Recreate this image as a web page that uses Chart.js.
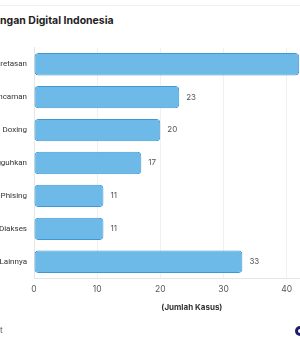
<!DOCTYPE html>
<html>
<head>
<meta charset="utf-8">
<script src="https://cdn.jsdelivr.net/npm/chart.js@4.4.1/dist/chart.umd.min.js"></script>
<style>
  html, body { margin: 0; padding: 0; background: #fff; }
  body { width: 300px; height: 350px; position: relative; overflow: hidden; font-family: Inter, "Open Sans", sans-serif; }
  .topline { position: absolute; left: 0; right: 0; top: 5px; border-top: 1px solid #f0f0f0; }
  #title { position: absolute; top: 14px; white-space: nowrap; font-weight: 700; font-size: 10.5px; color: #222; }
  #source { position: absolute; top: 325px; white-space: nowrap; font-size: 8px; color: #555; }
  #logo { position: absolute; left: 295px; top: 326px; width: 10px; height: 10px; border-radius: 50%; background: #1f1d6b; }
  #logo::after { content: ""; position: absolute; left: 3px; top: 3px; width: 4px; height: 4px; border-radius: 50%; background: #fff; }
  #wrap { position: absolute; left: -56px; top: 36px; width: 417px; height: 276px; }
</style>
</head>
<body>
<div class="topline"></div>
<div id="title">Serangan Digital Indonesia</div>
<div id="source">Sumber: SAFEnet</div>
<div id="logo"></div>
<div id="wrap"><canvas id="attackChart"></canvas></div>
<script>
// data
const categories = ["Peretasan", "Ancaman", "Doxing", "Akun Ditangguhkan", "Phising", "Diakses", "Lainnya"];
const caseCounts = [42, 23, 20, 17, 11, 11, 33];
const xTicks = [0, 10, 20, 30, 40, 50];

// shift the title / source so they are cut at the left edge like the reference
function cutLeft(id, hiddenPart) {
  const el = document.getElementById(id);
  const c = document.createElement("canvas").getContext("2d");
  const cs = getComputedStyle(el);
  c.font = cs.fontWeight + " " + cs.fontSize + " " + cs.fontFamily;
  el.style.left = (-c.measureText(hiddenPart).width) + "px";
}
cutLeft("title", "Sera");
cutLeft("source", "Sumber: SAFEne");

// value labels at the end of each bar
const valueLabels = {
  id: "valueLabels",
  afterDatasetsDraw(chart) {
    const ctx = chart.ctx;
    const meta = chart.getDatasetMeta(0);
    ctx.save();
    ctx.font = "8px Inter";
    ctx.fillStyle = "#555";
    ctx.textBaseline = "middle";
    meta.data.forEach((bar, i) => {
      ctx.fillText(caseCounts[i], bar.x + 7, bar.y);
    });
    ctx.restore();
  }
};

const ctx = document.getElementById("attackChart").getContext("2d");
new Chart(ctx, {
  type: "bar",
  data: {
    labels: categories,
    datasets: [{
      data: caseCounts,
      backgroundColor: "#6dbae9",
      borderColor: "#3f97d3",
      borderWidth: 1,
      borderRadius: 4,
      borderSkipped: false,
      categoryPercentage: 0.8,
      barPercentage: 0.85
    }]
  },
  options: {
    indexAxis: "y",
    responsive: true,
    maintainAspectRatio: false,
    animation: false,
    layout: { padding: { top: 8, right: 0 } },
    scales: {
      x: {
        min: 0,
        max: 50,
        afterBuildTicks: s => { s.ticks = xTicks.map(v => ({ value: v })); },
        grid: { color: "#f1f1f1", drawTicks: false },
        border: { color: "#e6e6e6" },
        ticks: { color: "#555", font: { family: "Inter", size: 8.5 }, padding: 6 },
        title: { display: true, text: "(Jumlah Kasus)", color: "#333", font: { family: "Inter", size: 8, weight: "bold" }, padding: { top: 2, bottom: 0 } }
      },
      y: {
        afterFit: s => { s.width = 90; },
        grid: { display: false, drawTicks: false },
        border: { color: "#e6e6e6" },
        ticks: { color: "#333", font: { family: "Roboto", size: 8 }, padding: 7 }
      }
    },
    plugins: {
      legend: { display: false },
      tooltip: { enabled: false }
    }
  },
  plugins: [valueLabels]
});
</script>
</body>
</html>
